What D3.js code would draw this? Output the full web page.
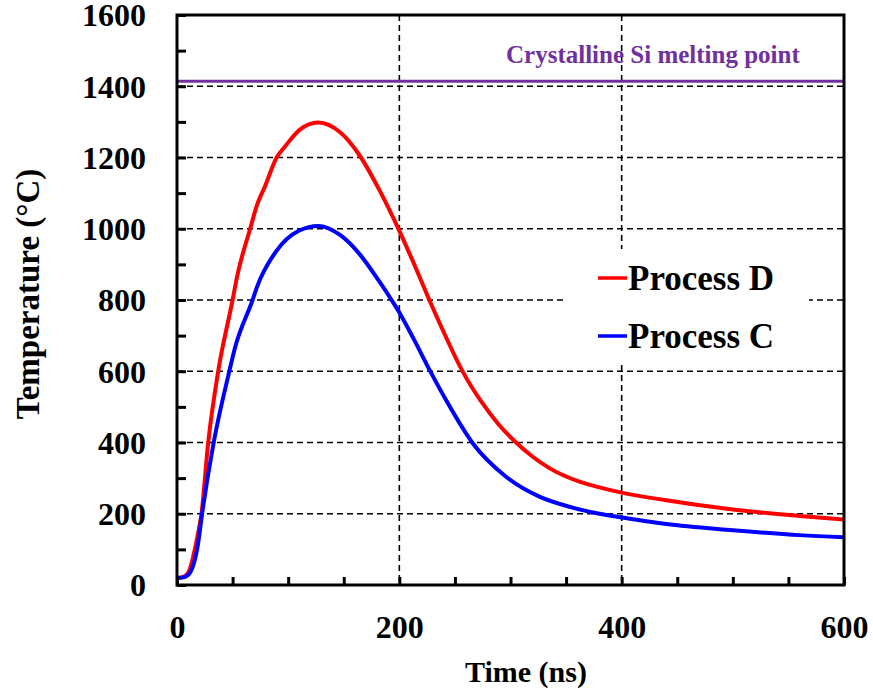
<!DOCTYPE html>
<html>
<head>
<meta charset="utf-8">
<script src="https://cdn.jsdelivr.net/npm/d3@7"></script>
<style>
  body { margin: 0; background: #fff; }
  text { font-family: "Liberation Serif", "Times New Roman", serif; font-weight: bold; }
</style>
</head>
<body>
<div id="chart"></div>
<script>
// Process D (red) readings, time in ns and temperature in °C
var timeD = [0, 5, 10, 19, 22, 28, 37, 50, 54, 66, 72, 79, 90, 97, 110, 127, 147, 164, 182, 199, 212, 227, 239, 257, 273, 289, 305, 320, 335, 362, 380, 399, 440, 500, 560, 600];
var tempD = [20, 22, 34, 146, 200, 398, 599, 800, 865, 1002, 1067, 1118, 1202, 1230, 1277, 1298, 1270, 1207, 1109, 1001, 910, 800, 716, 599, 518, 452, 400, 360, 328, 290, 274, 260, 238, 212, 194, 184];

// Process C (blue) readings
var timeC = [0, 5, 10, 19, 22.5, 33, 47, 52, 68, 72, 89, 110, 127, 147, 165, 182, 193, 200, 213, 228, 242, 266, 296, 326, 355, 380, 399, 440, 500, 560, 600];
var tempC = [20, 21, 28, 117, 198, 400, 599, 664, 800, 837, 936, 995, 1008, 982, 926, 852, 800, 765, 690, 599, 519, 398, 304, 248, 218, 200, 190, 171, 154, 140, 134];

var seriesNames = ["Process D", "Process C"];
var seriesColors = ["#ff0000", "#0000ff"];
var meltingPoint = 1414;
var meltingLabel = "Crystalline Si melting point";
var xTickLabels = [0, 200, 400, 600];
var yTickLabels = [0, 200, 400, 600, 800, 1000, 1200, 1400, 1600];

var width = 873, height = 694;
var margin = { top: 15, right: 29, bottom: 109, left: 177 };
var innerW = width - margin.left - margin.right;
var innerH = height - margin.top - margin.bottom;

var svg = d3.select("#chart").append("svg")
    .attr("width", width)
    .attr("height", height);

var g = svg.append("g").attr("transform", "translate(" + margin.left + "," + margin.top + ")");

var x = d3.scaleLinear().domain([0, 600]).range([0, innerW]);
var y = d3.scaleLinear().domain([0, 1600]).range([innerH, 0]);

// dashed grid
g.selectAll(".hgrid")
    .data(yTickLabels.filter(function (d) { return d > 0 && d < 1600; }))
    .enter().append("line")
    .attr("x1", 0).attr("x2", innerW)
    .attr("y1", function (d) { return y(d); })
    .attr("y2", function (d) { return y(d); })
    .attr("stroke", "#000").attr("stroke-width", 1.6)
    .attr("stroke-dasharray", "6,4");

g.selectAll(".vgrid")
    .data(xTickLabels.filter(function (d) { return d > 0 && d < 600; }))
    .enter().append("line")
    .attr("y1", 0).attr("y2", innerH)
    .attr("x1", function (d) { return x(d); })
    .attr("x2", function (d) { return x(d); })
    .attr("stroke", "#000").attr("stroke-width", 1.6)
    .attr("stroke-dasharray", "6,4");

// legend background hides the grid behind it
g.append("rect")
    .attr("x", 567 - margin.left).attr("y", 249 - margin.top)
    .attr("width", 242).attr("height", 115)
    .attr("fill", "#fff");

// melting point line
g.append("line")
    .attr("x1", 0).attr("x2", innerW)
    .attr("y1", y(meltingPoint)).attr("y2", y(meltingPoint))
    .attr("stroke", "#7030a0").attr("stroke-width", 3);

g.append("text")
    .attr("x", 506 - margin.left)
    .attr("y", 63 - margin.top)
    .attr("font-size", "25px")
    .attr("fill", "#7030a0")
    .text(meltingLabel);

// curves
var line = d3.line()
    .curve(d3.curveMonotoneX)
    .x(function (d) { return x(d[0]); })
    .y(function (d) { return y(d[1]); });

var series = [d3.zip(timeD, tempD), d3.zip(timeC, tempC)];

g.selectAll(".curve")
    .data(series)
    .enter().append("path")
    .attr("d", line)
    .attr("fill", "none")
    .attr("stroke", function (d, i) { return seriesColors[i]; })
    .attr("stroke-width", 4)
    .attr("stroke-linejoin", "round");

// inward ticks
var yTicks = g.append("g")
    .call(d3.axisLeft(y).tickValues(d3.range(0, 1601, 100)).tickSize(-9).tickSizeOuter(0).tickFormat(""));
var xTicks = g.append("g")
    .attr("transform", "translate(0," + innerH + ")")
    .call(d3.axisBottom(x).tickValues(d3.range(0, 601, 50)).tickSize(-8).tickSizeOuter(0).tickFormat(""));
[yTicks, xTicks].forEach(function (a) {
    a.selectAll(".tick line").attr("stroke", "#000").attr("stroke-width", 3);
    a.select(".domain").remove();
});

// tick labels
var yLab = g.append("g")
    .call(d3.axisLeft(y).tickValues(yTickLabels).tickSize(0).tickPadding(31).tickFormat(d3.format("d")));
var xLab = g.append("g")
    .attr("transform", "translate(0," + innerH + ")")
    .call(d3.axisBottom(x).tickValues(xTickLabels).tickSize(0).tickPadding(30).tickFormat(d3.format("d")));
[yLab, xLab].forEach(function (a) {
    a.select(".domain").remove();
    a.selectAll("text")
        .attr("font-family", "'Liberation Serif', 'Times New Roman', serif")
        .attr("font-weight", "bold")
        .attr("font-size", "32px")
        .attr("fill", "#000");
});
yLab.selectAll("text").attr("dy", "0.34em");

// plot frame
g.append("rect")
    .attr("x", 0).attr("y", 0)
    .attr("width", innerW).attr("height", innerH)
    .attr("fill", "none")
    .attr("stroke", "#000").attr("stroke-width", 3);

// axis titles
svg.append("text")
    .attr("x", 526).attr("y", 682)
    .attr("text-anchor", "middle")
    .attr("font-size", "30px")
    .text("Time (ns)");

svg.append("text")
    .attr("transform", "translate(39,294) rotate(-90)")
    .attr("text-anchor", "middle")
    .attr("font-size", "33px")
    .text("Temperature (°C)");

// legend
var legend = svg.selectAll(".legend")
    .data(seriesNames)
    .enter().append("g")
    .attr("transform", function (d, i) { return "translate(0," + (278 + i * 58) + ")"; });

legend.append("line")
    .attr("x1", 598).attr("x2", 627)
    .attr("y1", 0).attr("y2", 0)
    .attr("stroke", function (d, i) { return seriesColors[i]; })
    .attr("stroke-width", 3.5);

legend.append("text")
    .attr("x", 628).attr("y", 12)
    .attr("font-size", "35px")
    .text(function (d) { return d; });
</script>
</body>
</html>
